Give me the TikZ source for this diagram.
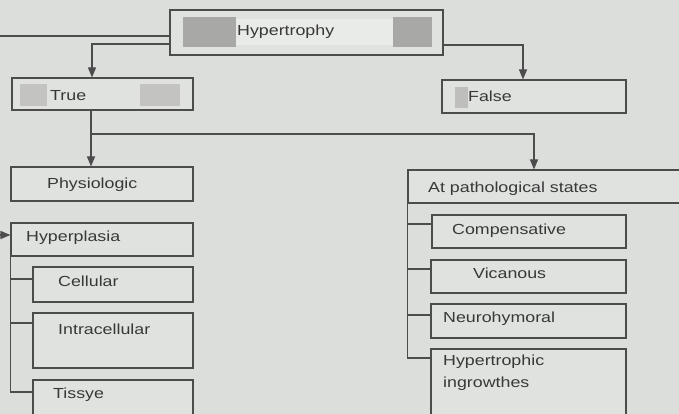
\documentclass[tikz,border=0pt]{standalone}
\usepackage{fontspec}
\setmainfont{Liberation Sans}[FakeStretch=1.22]
\usetikzlibrary{arrows.meta}
\definecolor{bgc}{rgb}{0.86,0.87,0.855}
\definecolor{boxc}{rgb}{0.875,0.885,0.87}
\definecolor{linec}{rgb}{0.30,0.30,0.30}
\definecolor{txtc}{rgb}{0.22,0.22,0.22}
\definecolor{shadec}{rgb}{0.66,0.66,0.65}
\begin{document}
\begin{tikzpicture}[x=1pt,y=-1pt,
  box/.style={draw=linec,line width=1.1pt,fill=boxc,inner sep=0pt,minimum width=#1},
  box/.default=182pt,
  lbl/.style={anchor=west,inner sep=0pt,text=txtc,font=\fontsize{14.6}{22}\selectfont,align=left},
  con/.style={draw=linec,line width=1.1pt},
  arr/.style={con,-{Triangle[width=8pt,length=10pt]}},
  shade/.style={fill=shadec,draw=none}]
\useasboundingbox (0,0) rectangle (679,414);
\fill[bgc] (-2,-2) rectangle (681,416);
% Hypertrophy
\node[box=273pt,minimum height=45pt] (hyp) at (306.5,32.5) {};
\fill[shadec] (183,17) rectangle (236,47);
\fill[shadec] (393,17) rectangle (432,47);
\fill[boxc!70!white] (236,19) rectangle (393,45);
\node[lbl] (thyp) at (237,32) {Hypertrophy};
% True / False
\node[box=181pt,minimum height=32pt] (true) at (102.5,94) {};
\fill[shade,opacity=0.5] (20,84) rectangle (47,106);
\fill[shade,opacity=0.5] (140,84) rectangle (180,106);
\node[lbl] (ttrue) at (50,96) {True};
\node[box=184pt,minimum height=33pt] (false) at (534,96.5) {};
\fill[shade,opacity=0.6] (455,87) rectangle (468,108);
\node[lbl] (tfalse) at (468,96) {False};
% Left column
\node[box,minimum height=34pt] (phys) at (102,184) {};
\node[lbl] (tphys) at (47,185) {Physiologic};
\node[box,minimum height=33pt] (hpl) at (102,239.5) {};
\node[lbl] (thpl) at (26,238) {Hyperplasia};
\node[box=160pt,minimum height=35pt] (cell) at (113,284.5) {};
\node[lbl] (tcell) at (58,281) {Cellular};
\node[box=160pt,minimum height=55pt] (intra) at (113,340.5) {};
\node[lbl] (tintra) at (58,329) {Intracellular};
\node[box=160pt,minimum height=40pt] (tiss) at (113,400) {};
\node[lbl] (ttiss) at (53,395) {Tissye};
% Right column
\node[box=290pt,minimum height=33pt] (path) at (553,186.5) {};
\node[lbl] (tpath) at (428,189) {At pathological states};
\node[box=194pt,minimum height=33pt] (comp) at (529,231.5) {};
\node[lbl] (tcomp) at (452,231) {Compensative};
\node[box=195pt,minimum height=33pt] (vica) at (528.5,276.5) {};
\node[lbl] (tvica) at (473,273) {Vicanous};
\node[box=195pt,minimum height=34pt] (neur) at (528.5,321) {};
\node[lbl] (tneur) at (443,319) {Neurohymoral};
\node[box=195pt,minimum height=75pt] (hgrow) at (528.5,386.5) {};
\node[lbl,anchor=north west] (thgrow) at (443,355) {Hypertrophic\\ingrowthes};
% connectors
\coordinate (offl1) at (-6,36);
\coordinate (offl2) at (-6,235);
\draw[con] (hyp.west |- offl1) -- (offl1) -- (offl2);
\draw[arr] (offl2) -- (hpl.west |- offl2);
\draw[arr] (hyp.west |- 0,44) -| (92,44) -- (true.north -| 92,0);
\draw[arr] (hyp.east |- 0,45) -| (false.north -| 523,0);
\draw[arr] (true.south -| 91,0) -- (phys.north -| 91,0);
\coordinate (split) at (91,134);
\draw[arr] (split) -| (path.north -| 534,0);
% hyperplasia tree
\draw[con] (hpl.south west) |- (tiss.west |- 0,392);
\draw[con] (11,279) -- (cell.west |- 0,279);
\draw[con] (11,323) -- (intra.west |- 0,323);
% pathological tree
\draw[con] (path.south west) |- (hgrow.west |- 0,358);
\draw[con] (408,224) -- (comp.west |- 0,224);
\draw[con] (408,269) -- (vica.west |- 0,269);
\draw[con] (408,315) -- (neur.west |- 0,315);
\end{tikzpicture}
\end{document}
